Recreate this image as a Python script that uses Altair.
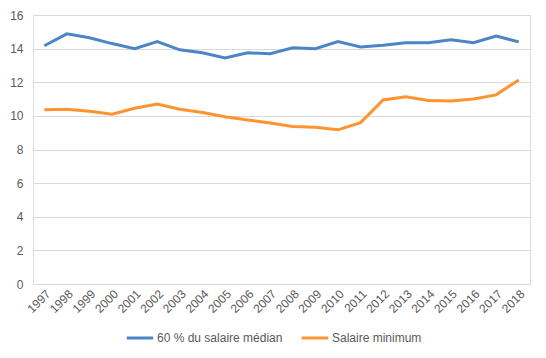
import altair as alt
import pandas as pd

years = [str(y) for y in range(1997, 2019)]
median60 = [14.17, 14.88, 14.65, 14.3, 14.0, 14.42, 13.93, 13.75, 13.45, 13.75, 13.7,
            14.05, 14.0, 14.42, 14.1, 14.2, 14.35, 14.35, 14.52, 14.35, 14.75, 14.4]
minimum = [10.36, 10.4, 10.28, 10.1, 10.45, 10.7, 10.4, 10.2, 9.95, 9.76, 9.58,
           9.37, 9.33, 9.17, 9.6, 10.95, 11.13, 10.92, 10.88, 11.0, 11.25, 12.14]
series = ["60 % du salaire médian", "Salaire minimum"]
colors = ["#4a86c6", "#fd942f"]

rows = []
for i, y in enumerate(years):
    rows.append({"year": y, "value": median60[i], "series": series[0]})
    rows.append({"year": y, "value": minimum[i], "series": series[1]})
df = pd.DataFrame(rows)

font = "Liberation Sans"
chart = alt.Chart(df).mark_line(strokeWidth=3).encode(
    x=alt.X("year:O", sort=years, title=None,
            scale=alt.Scale(paddingInner=1, paddingOuter=0.5),
            axis=alt.Axis(labelAngle=-45, domain=True, domainColor="#d9d9d9", ticks=False,
                          labelColor="#595959", labelFont=font, labelFontSize=12,
                          labelPadding=4, grid=False)),
    y=alt.Y("value:Q", title=None,
            scale=alt.Scale(domain=[0, 16], nice=False),
            axis=alt.Axis(values=list(range(0, 17, 2)), domain=False, ticks=False,
                          labelColor="#595959", labelFont=font, labelFontSize=12,
                          labelPadding=10, gridColor="#d9d9d9", gridWidth=1)),
    color=alt.Color("series:N", scale=alt.Scale(domain=series, range=colors),
                    legend=alt.Legend(title=None, orient="none", direction="horizontal",
                                      legendX=92, legendY=308, symbolType="stroke",
                                      symbolSize=700, symbolStrokeWidth=3,
                                      labelFont=font, labelFontSize=12, labelColor="#595959",
                                      columnPadding=12, labelOffset=2)),
).properties(
    width=497, height=269,
    autosize=alt.AutoSizeParams(type="none"),
    padding={"left": 25, "top": 7, "right": 8, "bottom": 66},
).configure_view(stroke=None).configure(background="white")

chart.save("out.html", embed_options={"renderer": "svg", "actions": False})
